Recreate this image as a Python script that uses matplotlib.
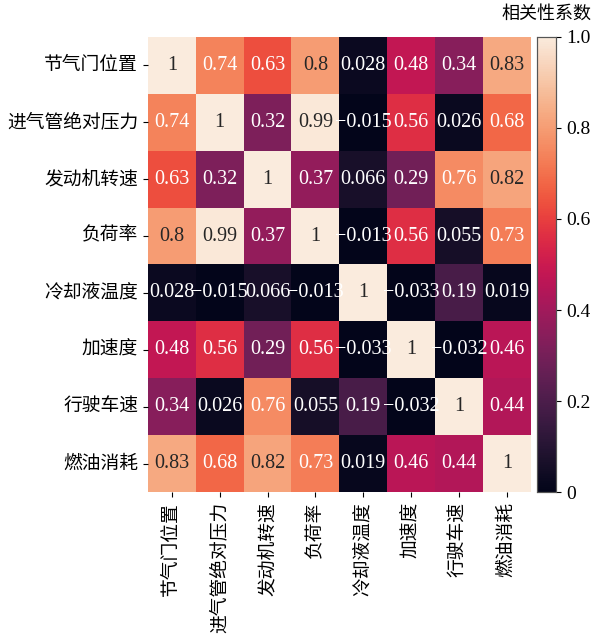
import numpy as np
import matplotlib
matplotlib.use("Agg")
import matplotlib.pyplot as plt
import seaborn as sns
from matplotlib.ticker import FuncFormatter

# variable names
labels = ["节气门位置", "进气管绝对压力", "发动机转速", "负荷率",
          "冷却液温度", "加速度", "行驶车速", "燃油消耗"]

# correlation matrix
corr = np.array([
    [1.0, 0.74, 0.63, 0.8, 0.028, 0.48, 0.34, 0.83],
    [0.74, 1.0, 0.32, 0.99, -0.015, 0.56, 0.026, 0.68],
    [0.63, 0.32, 1.0, 0.37, 0.066, 0.29, 0.76, 0.82],
    [0.8, 0.99, 0.37, 1.0, -0.013, 0.56, 0.055, 0.73],
    [0.028, -0.015, 0.066, -0.013, 1.0, -0.033, 0.19, 0.019],
    [0.48, 0.56, 0.29, 0.56, -0.033, 1.0, -0.032, 0.46],
    [0.34, 0.026, 0.76, 0.055, 0.19, -0.032, 1.0, 0.44],
    [0.83, 0.68, 0.82, 0.73, 0.019, 0.46, 0.44, 1.0],
])

plt.rcParams['font.family'] = ['Liberation Serif', 'Noto Sans CJK SC']
plt.rcParams['axes.unicode_minus'] = True

# annotation text with a proper minus sign
annot = np.vectorize(lambda v: "{:.2g}".format(v).replace("-", "\u2212"))(corr)

fig = plt.figure(figsize=(6.06, 6.35), dpi=100)
ax = fig.add_axes([0.244, 0.225, 0.632, 0.717])
cax = fig.add_axes([0.886, 0.225, 0.032, 0.717])

sns.heatmap(corr, ax=ax, cbar_ax=cax, cmap="rocket", vmin=0, vmax=1,
            annot=annot, fmt="", annot_kws={"fontsize": 14.5},
            xticklabels=labels, yticklabels=labels)

ax.tick_params(axis='both', labelsize=13.5)
ax.set_xticklabels(labels, rotation=90)
ax.set_yticklabels(labels, rotation=0)

cax.set_yticks([0, 0.2, 0.4, 0.6, 0.8, 1.0])
cax.yaxis.set_major_formatter(FuncFormatter(lambda v, p: "0" if v == 0 else "{:.1f}".format(v)))
cax.tick_params(labelsize=14)
for s in cax.spines.values():
    s.set_visible(True)
    s.set_color("#555555")
    s.set_linewidth(0.8)
cax.set_title("相关性系数", fontsize=13, pad=13)

fig.savefig("out.png", dpi=100)
